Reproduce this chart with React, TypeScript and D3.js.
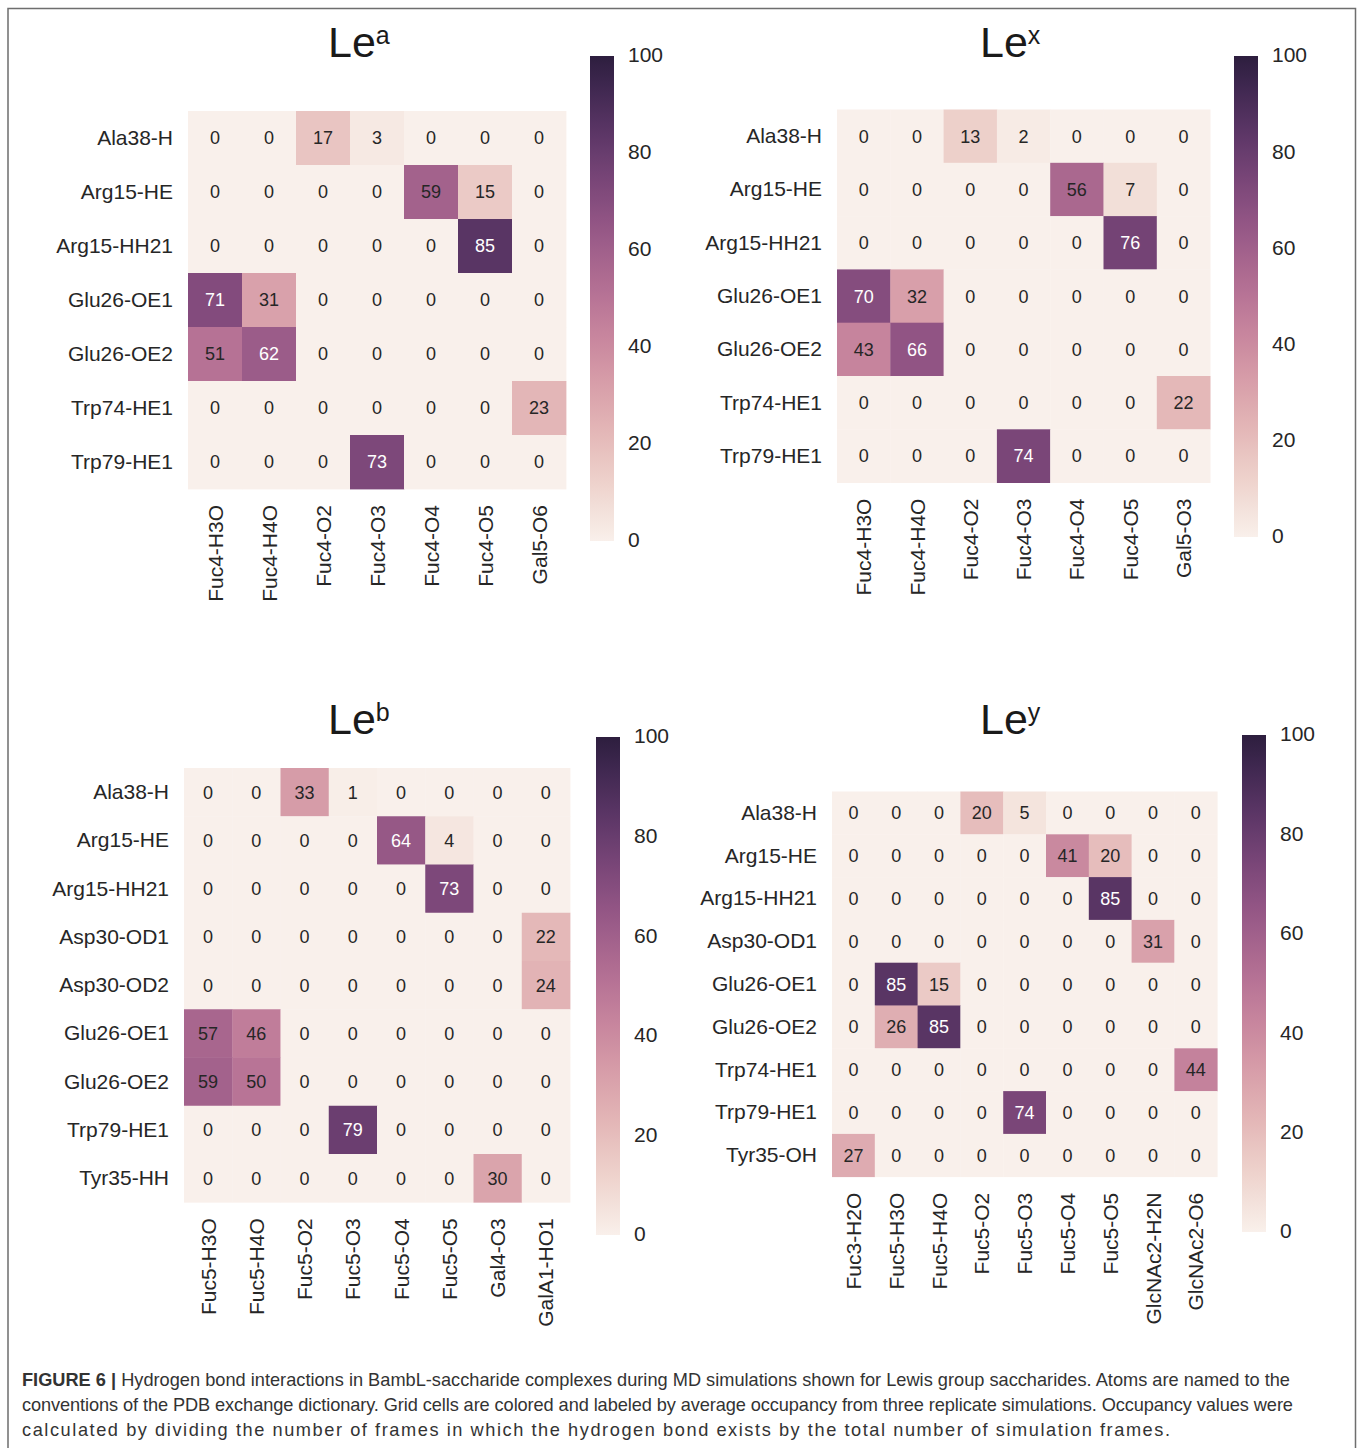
import React, { useEffect, useRef, useState } from "react";
import * as d3 from "d3";

// ---------- DATA ----------
const leaRows = ["Ala38-H", "Arg15-HE", "Arg15-HH21", "Glu26-OE1", "Glu26-OE2", "Trp74-HE1", "Trp79-HE1"];
const leaCols = ["Fuc4-H3O", "Fuc4-H4O", "Fuc4-O2", "Fuc4-O3", "Fuc4-O4", "Fuc4-O5", "Gal5-O6"];
const leaValues = [
  [0, 0, 17, 3, 0, 0, 0],
  [0, 0, 0, 0, 59, 15, 0],
  [0, 0, 0, 0, 0, 85, 0],
  [71, 31, 0, 0, 0, 0, 0],
  [51, 62, 0, 0, 0, 0, 0],
  [0, 0, 0, 0, 0, 0, 23],
  [0, 0, 0, 73, 0, 0, 0],
];

const lexRows = ["Ala38-H", "Arg15-HE", "Arg15-HH21", "Glu26-OE1", "Glu26-OE2", "Trp74-HE1", "Trp79-HE1"];
const lexCols = ["Fuc4-H3O", "Fuc4-H4O", "Fuc4-O2", "Fuc4-O3", "Fuc4-O4", "Fuc4-O5", "Gal5-O3"];
const lexValues = [
  [0, 0, 13, 2, 0, 0, 0],
  [0, 0, 0, 0, 56, 7, 0],
  [0, 0, 0, 0, 0, 76, 0],
  [70, 32, 0, 0, 0, 0, 0],
  [43, 66, 0, 0, 0, 0, 0],
  [0, 0, 0, 0, 0, 0, 22],
  [0, 0, 0, 74, 0, 0, 0],
];

const lebRows = ["Ala38-H", "Arg15-HE", "Arg15-HH21", "Asp30-OD1", "Asp30-OD2", "Glu26-OE1", "Glu26-OE2", "Trp79-HE1", "Tyr35-HH"];
const lebCols = ["Fuc5-H3O", "Fuc5-H4O", "Fuc5-O2", "Fuc5-O3", "Fuc5-O4", "Fuc5-O5", "Gal4-O3", "GalA1-HO1"];
const lebValues = [
  [0, 0, 33, 1, 0, 0, 0, 0],
  [0, 0, 0, 0, 64, 4, 0, 0],
  [0, 0, 0, 0, 0, 73, 0, 0],
  [0, 0, 0, 0, 0, 0, 0, 22],
  [0, 0, 0, 0, 0, 0, 0, 24],
  [57, 46, 0, 0, 0, 0, 0, 0],
  [59, 50, 0, 0, 0, 0, 0, 0],
  [0, 0, 0, 79, 0, 0, 0, 0],
  [0, 0, 0, 0, 0, 0, 30, 0],
];

const leyRows = ["Ala38-H", "Arg15-HE", "Arg15-HH21", "Asp30-OD1", "Glu26-OE1", "Glu26-OE2", "Trp74-HE1", "Trp79-HE1", "Tyr35-OH"];
const leyCols = ["Fuc3-H2O", "Fuc5-H3O", "Fuc5-H4O", "Fuc5-O2", "Fuc5-O3", "Fuc5-O4", "Fuc5-O5", "GlcNAc2-H2N", "GlcNAc2-O6"];
const leyValues = [
  [0, 0, 0, 20, 5, 0, 0, 0, 0],
  [0, 0, 0, 0, 0, 41, 20, 0, 0],
  [0, 0, 0, 0, 0, 0, 85, 0, 0],
  [0, 0, 0, 0, 0, 0, 0, 31, 0],
  [0, 85, 15, 0, 0, 0, 0, 0, 0],
  [0, 26, 85, 0, 0, 0, 0, 0, 0],
  [0, 0, 0, 0, 0, 0, 0, 0, 44],
  [0, 0, 0, 0, 74, 0, 0, 0, 0],
  [27, 0, 0, 0, 0, 0, 0, 0, 0],
];

const colorbarTicks = [0, 20, 40, 60, 80, 100];

const captionBold = "FIGURE 6 |";
const captionLines = [
  " Hydrogen bond interactions in BambL-saccharide complexes during MD simulations shown for Lewis group saccharides. Atoms are named to the",
  "conventions of the PDB exchange dictionary. Grid cells are colored and labeled by average occupancy from three replicate simulations. Occupancy values were",
  "calculated by dividing the number of frames in which the hydrogen bond exists by the total number of simulation frames.",
];

// ---------- COLORMAP (seaborn cubehelix_palette, light=.95) ----------
function cubehelixRGB(x: number): [number, number, number] {
  const gamma = 1, s = 0, r = 0.4, h = 0.8;
  const xg = Math.pow(x, gamma);
  const a = (h * xg * (1 - xg)) / 2;
  const phi = 2 * Math.PI * (s / 3 + r * x);
  const c = Math.cos(phi), sn = Math.sin(phi);
  const R = xg + a * (-0.14861 * c + 1.78277 * sn);
  const G = xg + a * (-0.29227 * c - 0.90649 * sn);
  const B = xg + a * (1.97294 * c);
  const cl = (v: number) => Math.max(0, Math.min(1, v));
  return [cl(R), cl(G), cl(B)];
}
const LIGHT = 0.95, DARK = 0.15;
function valueRGB(v: number) {
  const t = Math.max(0, Math.min(1, v / 100));
  return cubehelixRGB(LIGHT + (DARK - LIGHT) * t);
}
function toHex(rgb: [number, number, number]) {
  return d3.rgb(rgb[0] * 255, rgb[1] * 255, rgb[2] * 255).formatHex();
}
function textColor(v: number) {
  const [R, G, B] = valueRGB(v);
  const l = (Math.max(R, G, B) + Math.min(R, G, B)) / 2;
  return l > 0.5 ? "#262626" : "#ffffff";
}

// ---------- LAYOUT ----------
type Panel = {
  id: string;
  sup: string;
  rows: string[];
  cols: string[];
  values: number[][];
  left: number;
  top: number;
  cell: number;
  titleX: number;
  titleY: number;
  cbX: number;
  cbTop: number;
  cbBottom: number;
};

const panels: Panel[] = [
  { id: "a", sup: "a", rows: leaRows, cols: leaCols, values: leaValues, left: 188, top: 111, cell: 54, titleX: 328, titleY: 57, cbX: 590, cbTop: 56, cbBottom: 541 },
  { id: "x", sup: "x", rows: lexRows, cols: lexCols, values: lexValues, left: 837, top: 109.5, cell: 53.3, titleX: 980, titleY: 57, cbX: 1234, cbTop: 56, cbBottom: 537 },
  { id: "b", sup: "b", rows: lebRows, cols: lebCols, values: lebValues, left: 184, top: 768, cell: 48.25, titleX: 328, titleY: 734, cbX: 596, cbTop: 737, cbBottom: 1235 },
  { id: "y", sup: "y", rows: leyRows, cols: leyCols, values: leyValues, left: 832, top: 791.5, cell: 42.8, titleX: 980, titleY: 734, cbX: 1242, cbTop: 735, cbBottom: 1232 },
];

const FONT = "'Liberation Sans', Arial, Helvetica, sans-serif";

function Heatmap({ p }: { p: Panel }) {
  const x = d3.scaleBand<string>().domain(p.cols).range([p.left, p.left + p.cols.length * p.cell]);
  const y = d3.scaleBand<string>().domain(p.rows).range([p.top, p.top + p.rows.length * p.cell]);
  const cb = d3.scaleLinear().domain([0, 100]).range([p.cbBottom, p.cbTop]);
  const gridBottom = p.top + p.rows.length * p.cell;
  const stops = d3.range(0, 101, 2);
  const gid = "grad-" + p.id;
  return (
    <g>
      <defs>
        <linearGradient id={gid} x1="0" y1="1" x2="0" y2="0">
          {stops.map((s) => (
            <stop key={s} offset={`${s}%`} stopColor={toHex(valueRGB(s))} />
          ))}
        </linearGradient>
      </defs>
      <text x={p.titleX} y={p.titleY} fontFamily={FONT} fontSize={43} fill="#1a1a1a">
        Le
        <tspan dy={-13} fontSize={25}>{p.sup}</tspan>
      </text>
      {p.rows.map((r, i) =>
        p.cols.map((c, j) => {
          const v = p.values[i][j];
          return (
            <g key={r + c}>
              <rect x={x(c)} y={y(r)} width={x.bandwidth() + 0.4} height={y.bandwidth() + 0.4} fill={toHex(valueRGB(v))} />
              <text
                x={(x(c) as number) + x.bandwidth() / 2}
                y={(y(r) as number) + y.bandwidth() / 2}
                dy="0.36em"
                textAnchor="middle"
                fontFamily={FONT}
                fontSize={18}
                fill={textColor(v)}
              >
                {v}
              </text>
            </g>
          );
        })
      )}
      {p.rows.map((r) => (
        <text
          key={"rl" + r}
          x={p.left - 15}
          y={(y(r) as number) + y.bandwidth() / 2}
          dy="0.33em"
          textAnchor="end"
          fontFamily={FONT}
          fontSize={21}
          fill="#262626"
        >
          {r}
        </text>
      ))}
      {p.cols.map((c) => {
        const cx = (x(c) as number) + x.bandwidth() / 2;
        const ty = gridBottom + 16;
        return (
          <text
            key={"cl" + c}
            transform={`translate(${cx},${ty}) rotate(-90)`}
            dy="0.36em"
            textAnchor="end"
            fontFamily={FONT}
            fontSize={21}
            fill="#262626"
          >
            {c}
          </text>
        );
      })}
      <rect x={p.cbX} y={p.cbTop} width={24} height={p.cbBottom - p.cbTop} fill={`url(#${gid})`} />
      {colorbarTicks.map((t) => (
        <text key={"cb" + t} x={p.cbX + 38} y={cb(t)} dy="0.3em" fontFamily={FONT} fontSize={21} fill="#262626">
          {t}
        </text>
      ))}
    </g>
  );
}

const CAP_FONT = "'Liberation Sans Narrow', 'Arial Narrow', 'Liberation Sans', sans-serif";

function Caption() {
  const firstRef = useRef<SVGTextElement>(null);
  const [k, setK] = useState<number | null>(null);
  const targets = [1268, 1271, 1148];
  useEffect(() => {
    if (firstRef.current) {
      const w = firstRef.current.getComputedTextLength();
      if (w > 0) setK(targets[0] / w);
    }
  }, []);
  const capY = [1380, 1405, 1430];
  const kk = k ?? 1;
  return (
    <g transform={`translate(22,0) scale(${kk},1)`}>
      {captionLines.map((line, i) => (
        <text
          key={i}
          ref={i === 0 ? firstRef : undefined}
          x={0}
          y={capY[i]}
          dy="0.36em"
          fontFamily={CAP_FONT}
          fontSize={18}
          fill="#333"
          {...(k !== null ? { textLength: targets[i] / kk, lengthAdjust: "spacing" } : {})}
        >
          {i === 0 && <tspan fontWeight="bold">{captionBold}</tspan>}
          {line}
        </text>
      ))}
    </g>
  );
}

export default function App() {
  return (
    <svg width={1358} height={1448} style={{ position: "absolute", left: 0, top: 0, background: "#fff" }}>
      <rect x={0} y={0} width={1358} height={1448} fill="#ffffff" />
      <path d="M8,1448 L8,8.5 L1355.5,8.5 L1355.5,1448" fill="none" stroke="#6e6e6e" strokeWidth={1.5} />
      {panels.map((p) => (
        <Heatmap key={p.id} p={p} />
      ))}
      <Caption />
    </svg>
  );
}
